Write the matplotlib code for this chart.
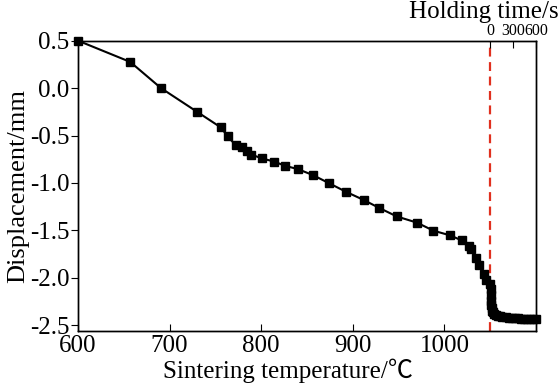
#!/usr/bin/env python3
# Displacement vs sintering temperature, with holding-time segment

import matplotlib
matplotlib.use("Agg")
import matplotlib.pyplot as plt

plt.rcParams["font.family"] = ["Liberation Serif", "Noto Sans CJK SC"]
plt.rcParams["axes.unicode_minus"] = False

# heating stage: temperature (C) vs displacement (mm)
heat_temp = [600, 657, 690.6, 730, 756, 763.5, 772, 779.5, 784, 789,
             801, 814, 826, 840, 856.5, 873.5, 892.6, 912, 929, 948,
             970, 988, 1006.5, 1018.6, 1026.6, 1029, 1034.6, 1038, 1043, 1045.5]
heat_disp = [0.5, 0.276, 0.0, -0.25, -0.415, -0.51, -0.60, -0.62, -0.66, -0.70,
             -0.742, -0.774, -0.819, -0.854, -0.917, -1.0, -1.093, -1.18, -1.264, -1.353,
             -1.418, -1.503, -1.553, -1.605, -1.66, -1.70, -1.79, -1.868, -1.956, -2.02]

# holding stage: time (s) vs displacement (mm)
hold_time = [0, 3, 6, 9, 12, 18, 25, 35, 50, 70, 100, 130, 160, 200,
             240, 280, 320, 360, 400, 440, 480, 520, 560, 600]
hold_disp = [-2.06, -2.12, -2.18, -2.24, -2.29, -2.32, -2.345, -2.365, -2.38, -2.39,
             -2.40, -2.405, -2.41, -2.415, -2.42, -2.42, -2.425, -2.425, -2.43, -2.43,
             -2.43, -2.432, -2.432, -2.432]

temp_ticks = [600, 700, 800, 900, 1000]
disp_ticks = [0.5, 0.0, -0.5, -1.0, -1.5, -2.0, -2.5]
time_ticks = [0, 300, 600]
hold_start = 1050


def main():
    fig = plt.figure(figsize=(5.59, 3.91), dpi=100)
    ax = fig.add_axes([0.1395, 0.1535, 0.8195, 0.7425])

    ax.plot(heat_temp, heat_disp, color="black", lw=1.5, marker="s",
            markersize=5.5, clip_on=False, zorder=3)
    ax.axvline(hold_start, color="#e0301e", lw=1.6, ls=(0, (4, 2.5)), zorder=2)

    ax.set_xlim(600, 1100)
    ax.set_ylim(-2.56, 0.5)
    ax.set_xticks(temp_ticks)
    ax.set_yticks(disp_ticks)
    ax.set_yticklabels([f"{v:.1f}" for v in disp_ticks])
    ax.tick_params(axis="x", direction="in", length=5, labelsize=18, pad=3)
    ax.tick_params(axis="y", direction="out", length=5, labelsize=18, pad=1)
    ax.set_xlabel("Sintering temperature/℃", fontsize=18, labelpad=0)
    ax.xaxis.set_label_coords(0.4585, -0.095)
    ax.set_ylabel("Displacement/mm", fontsize=19, labelpad=1)

    # top axis for holding time: 0..600 s spans 1050..1100 C
    ax2 = ax.twiny()
    ax2.set_xlim(-(hold_start - 600) * 12, 600)
    ax2.plot(hold_time, hold_disp, color="black", lw=1.5, marker="s",
             markersize=5.5, clip_on=False, zorder=3)
    ax2.set_xticks(time_ticks)
    ax2.tick_params(axis="x", direction="in", length=5, labelsize=11.5, pad=1)
    ax2.set_ylim(-2.56, 0.5)

    for a in (ax, ax2):
        for s in a.spines.values():
            s.set_linewidth(1.0)

    fig.text(1.0, 0.955, "Holding time/s", ha="right", va="baseline", fontsize=18)

    fig.savefig("out.png", dpi=100)


if __name__ == "__main__":
    main()
